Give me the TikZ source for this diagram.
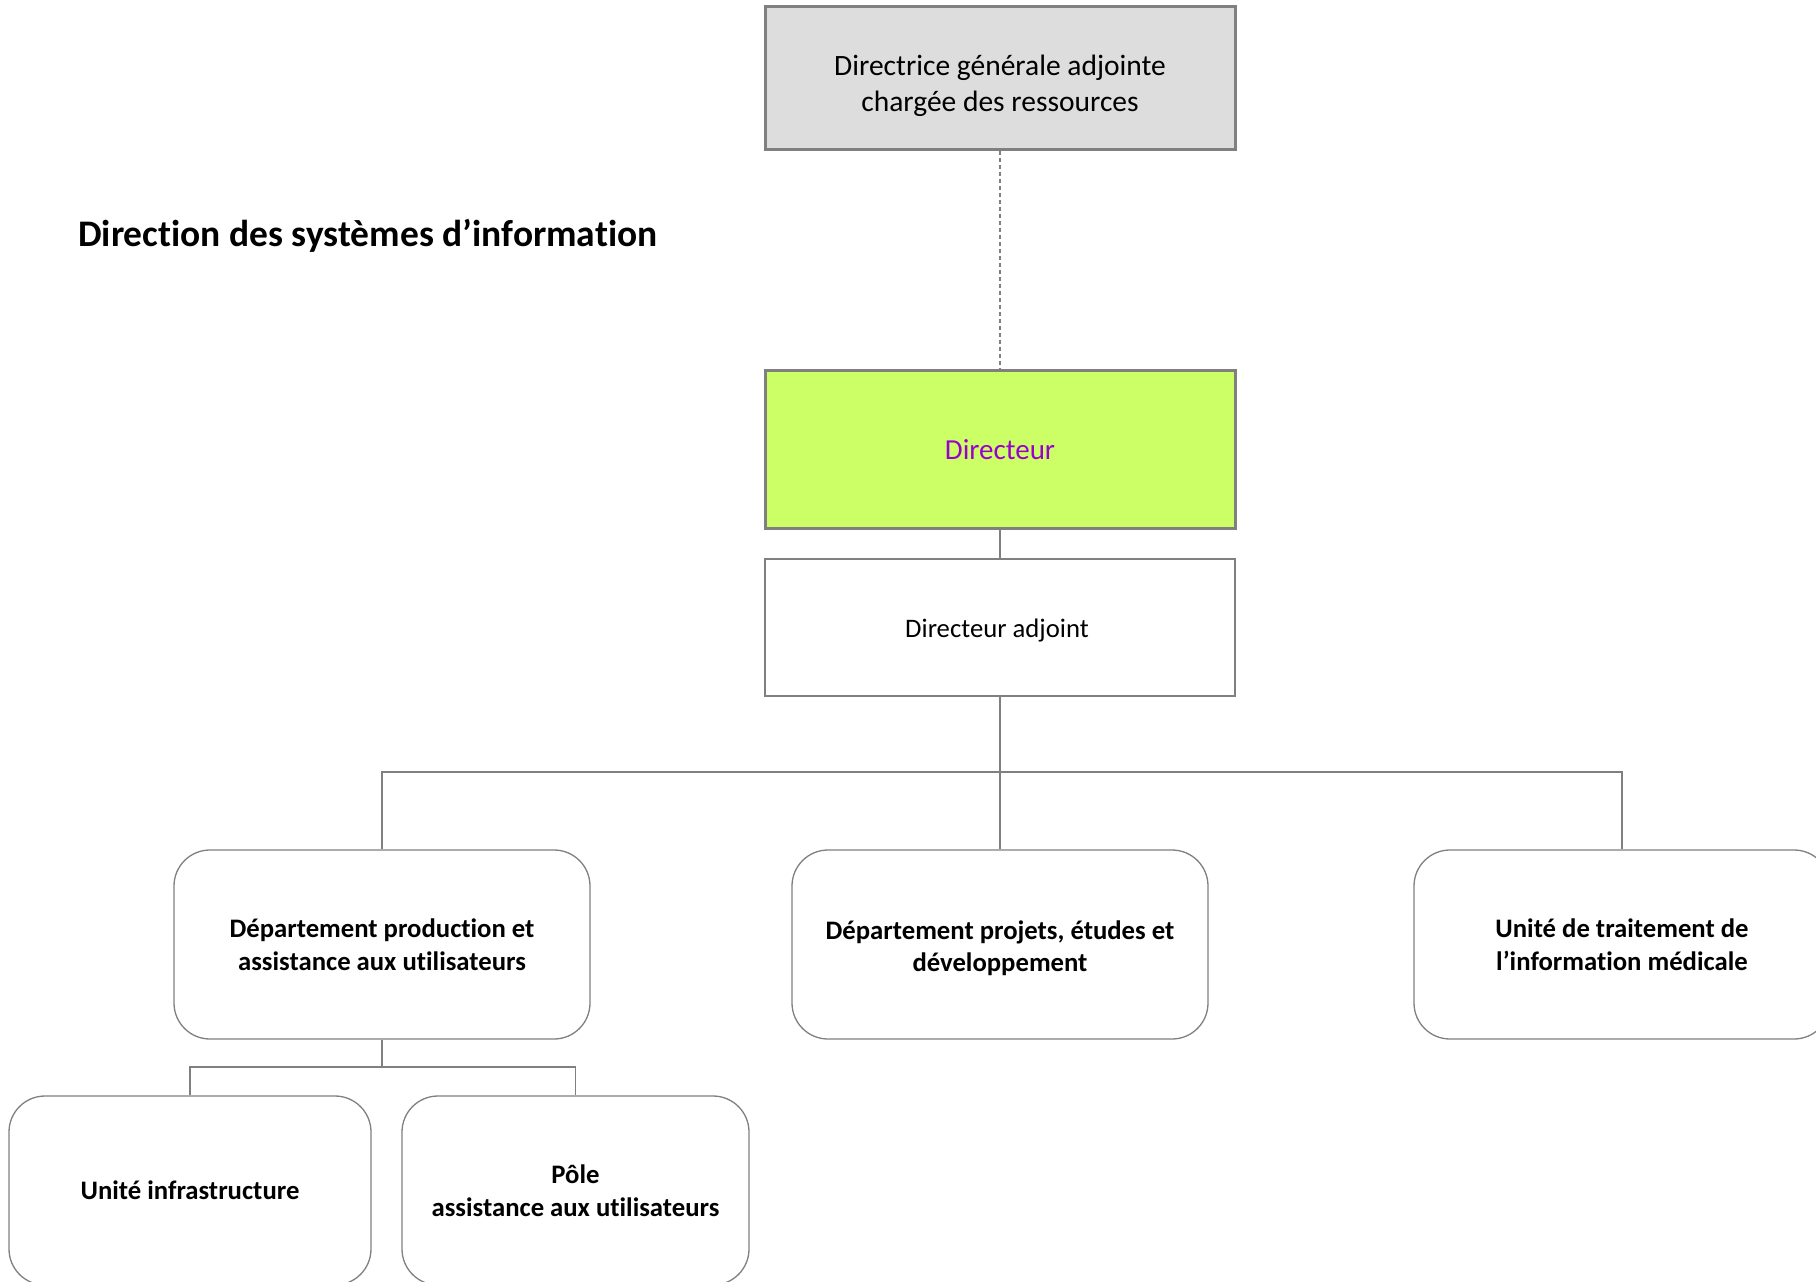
\documentclass[tikz,border=0pt]{standalone}
\usepackage{fontspec}
\setmainfont{Carlito}[Ligatures=NoCommon]
\definecolor{linegray}{HTML}{808080}
\definecolor{topfill}{HTML}{DDDDDD}
\definecolor{dirfill}{HTML}{CCFF66}
\definecolor{dirtext}{HTML}{9900CC}
\begin{document}
\begin{tikzpicture}[x=1pt,y=-1pt,
  box/.style={draw=linegray, rectangle, inner sep=0pt, align=center},
  thickbox/.style={box, line width=3pt},
  thinbox/.style={box, line width=1.4pt},
  roundbox/.style={box, line width=1.3pt, rounded corners=36pt, font=\fontsize{26.7}{32.5}\selectfont\bfseries},
  conn/.style={draw=linegray, line width=1.4pt},
  dashconn/.style={draw=linegray, line width=1.2pt, dash pattern=on 4pt off 3pt}]
\useasboundingbox (0,0) rectangle (1816,1282);
\fill[white] (0,0) rectangle (1816,1282);

\node[font=\fontsize{37.5}{44}\selectfont\bfseries, anchor=west, inner sep=0pt] (title) at (78,235.5) {Direction des systèmes d’information};

\node[thickbox, fill=topfill, minimum width=470pt, minimum height=143pt] (top) at (1000,77.5) {};
\node[font=\fontsize{29.5}{36}\selectfont, align=center, inner sep=0pt] (toptext) at (1000,85.5) {Directrice générale adjointe\\chargée des ressources};
\node[thickbox, fill=dirfill, minimum width=470pt, minimum height=158pt, text=dirtext, font=\fontsize{29}{34}\selectfont] (dir) at (1000,449) {\rule{0pt}{22pt}Directeur};
\node[thinbox, fill=white, minimum width=470pt, minimum height=137pt, font=\fontsize{26.7}{32}\selectfont] (adj) at (1000,627.5) {\rule{0pt}{24.5pt}Directeur adjoint\hspace*{6pt}};

\node[roundbox, minimum width=416pt, minimum height=189pt] (d1) at (382,944.5) {Département production et\\assistance aux utilisateurs};
\node[roundbox, minimum width=416pt, minimum height=189pt] (d2) at (1000,944.5) {\rule{0pt}{26pt}Département projets, études et\\développement};
\node[roundbox, minimum width=416pt, minimum height=189pt] (d3) at (1622,944.5) {Unité de traitement de\\l’information médicale};

\node[roundbox, minimum width=362pt, minimum height=189pt] (s1) at (190,1190.5) {Unité infrastructure};
\node[roundbox, minimum width=347pt, minimum height=189pt] (s2) at (575.5,1190.5) {Pôle\\assistance aux utilisateurs};

\coordinate (hub) at (1000,772);
\coordinate (subhub) at (382,1067);

\draw[dashconn] (top.south) -- (dir.north);
\draw[conn] (dir.south) -- (adj.north);
\draw[conn] (adj.south) -- (hub);
\draw[conn] (hub) -| (d1.north);
\draw[conn] (hub) -| (d3.north);
\draw[conn] (hub) -- (d2.north);
\draw[conn] (d1.south) -- (subhub);
\draw[conn] (subhub) -| (s1.north);
\draw[conn] (subhub) -| (s2.north);
\end{tikzpicture}
\end{document}
